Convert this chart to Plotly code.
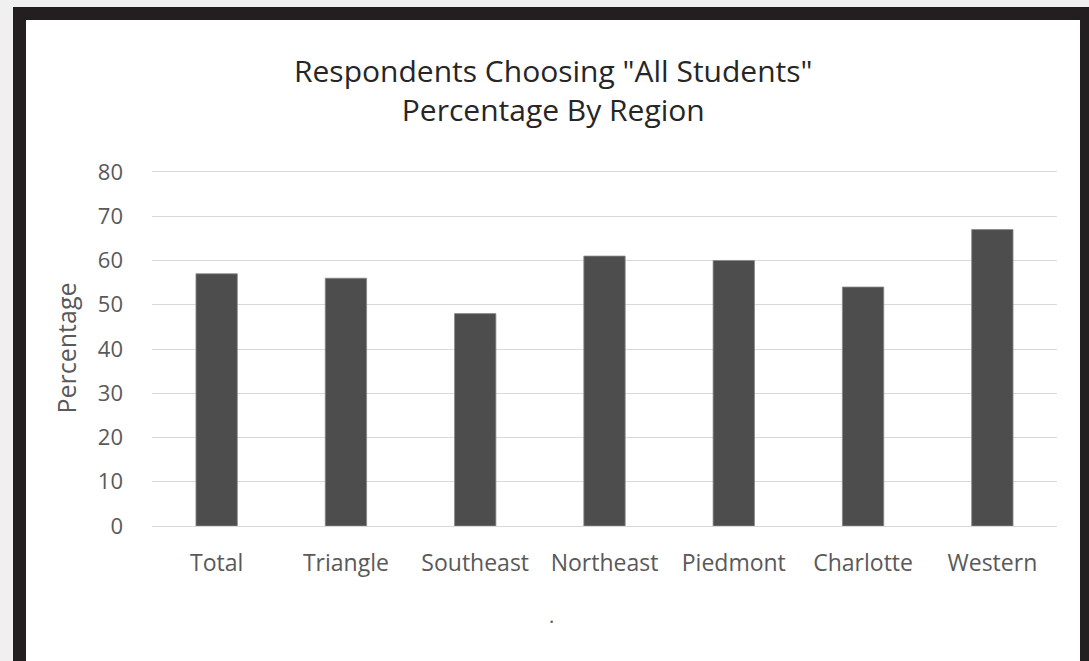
import plotly.graph_objects as go

# Survey results: share of respondents choosing "All Students", by region
regions = ["Total", "Triangle", "Southeast", "Northeast", "Piedmont", "Charlotte", "Western"]
percentages = [57, 56, 48, 61, 60, 54, 67]
y_ticks = [0, 10, 20, 30, 40, 50, 60, 70, 80]

W, H = 1089, 661
L, R, T, B = 152, 1057, 170, 526  # plot area in pixels
Y_MAX = 80.45  # a hair above 80 so the top gridline is drawn


def px(x):
    return (x - L) / (R - L)


def py(y):
    return (B - y) / (B - T)


FONT = "Open Sans"
DARK = "#231f20"
GREY_TXT = "#595959"

fig = go.Figure(
    go.Bar(
        x=regions,
        y=percentages,
        marker=dict(color="#4d4d4d", line=dict(color="#8a8a8a", width=0.8)),
        width=0.32,
        hoverinfo="x+y",
    )
)

shapes = [
    # thin light strip above and left of the frame
    dict(type="rect", xref="paper", yref="paper", x0=px(0), x1=px(W), y0=py(7), y1=py(0),
         fillcolor="#f0f0f0", line_width=0, layer="below"),
    dict(type="rect", xref="paper", yref="paper", x0=px(0), x1=px(13), y0=py(H), y1=py(7),
         fillcolor="#f0f0f0", line_width=0),
    # dark frame: top, left, right
    dict(type="rect", xref="paper", yref="paper", x0=px(13), x1=px(W), y0=py(20), y1=py(7),
         fillcolor=DARK, line_width=0),
    dict(type="rect", xref="paper", yref="paper", x0=px(13), x1=px(26), y0=py(H), y1=py(7),
         fillcolor=DARK, line_width=0),
    dict(type="rect", xref="paper", yref="paper", x0=px(1080), x1=px(W), y0=py(H), y1=py(7),
         fillcolor=DARK, line_width=0),
]

annotations = [
    dict(text='Respondents Choosing "All Students"<br>Percentage By Region',
         xref="paper", yref="paper", x=px(553), y=py(90), xanchor="center", yanchor="middle",
         showarrow=False, font=dict(family=FONT, size=30, color="#262626")),
    dict(text=".", xref="paper", yref="paper", x=px(551), y=py(615), xanchor="center",
         yanchor="middle", showarrow=False, font=dict(family=FONT, size=20, color=GREY_TXT)),
]

fig.update_layout(
    width=W,
    height=H,
    margin=dict(l=L, r=W - R, t=T, b=H - B),
    paper_bgcolor="white",
    plot_bgcolor="white",
    showlegend=False,
    bargap=0.68,
    shapes=shapes,
    annotations=annotations,
    font=dict(family=FONT, color=GREY_TXT),
    xaxis=dict(
        showgrid=False,
        showline=False,
        zeroline=False,
        ticks="",
        tickfont=dict(family=FONT, size=23, color=GREY_TXT),
        ticklabelstandoff=21,
    ),
    yaxis=dict(
        range=[0, Y_MAX],
        tickvals=y_ticks,
        showgrid=True,
        gridcolor="#d9d9d9",
        gridwidth=1.3,
        zeroline=True,
        zerolinecolor="#d9d9d9",
        zerolinewidth=1.3,
        showline=False,
        ticks="",
        ticklabelstandoff=28,
        tickfont=dict(family=FONT, size=22, color=GREY_TXT),
        title=dict(text="Percentage", font=dict(family=FONT, size=25, color=GREY_TXT), standoff=14),
    ),
)

fig.write_html("out.html")
